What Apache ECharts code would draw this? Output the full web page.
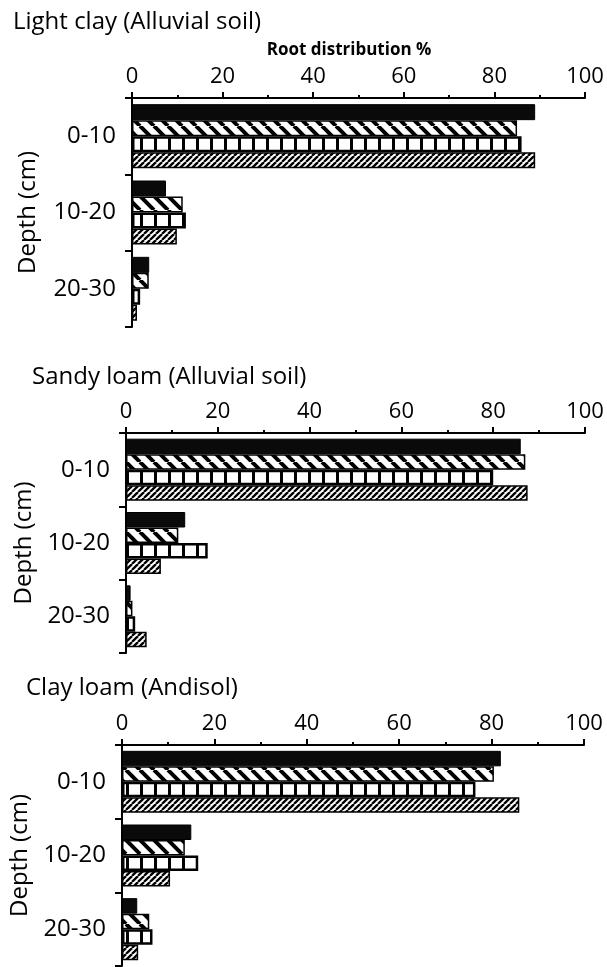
<!DOCTYPE html>
<html>
<head>
<meta charset="utf-8">
<script src="https://cdn.jsdelivr.net/npm/echarts@6/dist/echarts.min.js"></script>
<style>
html,body{margin:0;padding:0;background:#fff;}
#chart{width:607px;height:967px;}
</style>
</head>
<body>
<div id="chart"></div>
<script>
// ---- data ----
const depths = ['0-10', '10-20', '20-30'];
const panelTitles = ['Light clay (Alluvial soil)', 'Sandy loam (Alluvial soil)', 'Clay loam (Andisol)'];
const xAxisTitle = 'Root distribution %';
const yAxisTitle = 'Depth (cm)';

const lightClayBlack  = [89, 7.5, 3.8];
const lightClayWide   = [85, 11.2, 3.7];
const lightClaySquare = [86, 11.9, 1.8];
const lightClayFine   = [89, 9.9, 1.1];

const sandyLoamBlack  = [86, 12.9, 1.0];
const sandyLoamWide   = [87, 11.4, 1.4];
const sandyLoamSquare = [80, 17.8, 2.0];
const sandyLoamFine   = [87.5, 7.6, 4.5];

const clayLoamBlack  = [82, 15, 3.3];
const clayLoamWide   = [80.5, 13.6, 5.9];
const clayLoamSquare = [76.5, 16.5, 6.6];
const clayLoamFine   = [86, 10.4, 3.5];

// ---- patterns ----
function hatch(size, lw, dir) {
  const c = document.createElement('canvas');
  c.width = size; c.height = size;
  const g = c.getContext('2d');
  g.fillStyle = '#fff'; g.fillRect(0, 0, size, size);
  g.strokeStyle = '#000'; g.lineWidth = lw;
  for (const o of [-size, 0, size]) {
    g.beginPath();
    if (dir === 'back') { g.moveTo(o, 0); g.lineTo(o + size, size); }
    else { g.moveTo(o, size); g.lineTo(o + size, 0); }
    g.stroke();
  }
  return c;
}
function squares() {
  const c = document.createElement('canvas');
  c.width = 14; c.height = 14;
  const g = c.getContext('2d');
  g.fillStyle = '#fff'; g.fillRect(0, 0, 14, 14);
  g.fillStyle = '#000'; g.fillRect(0, 0, 3, 14);
  return c;
}
const wideFill = { image: hatch(14, 4, 'back'), repeat: 'repeat' };
const fineFill = { image: hatch(6, 2.3, 'fwd'), repeat: 'repeat' };
const squareFill = { image: squares(), repeat: 'repeat' };

const FONT = '"Open Sans", Lato, sans-serif';

const grids = [
  { left: 132, top: 98, width: 453, height: 229 },
  { left: 126, top: 433, width: 459, height: 220 },
  { left: 122, top: 745, width: 462, height: 221 }
];
const panels = [
  [lightClayBlack, lightClayWide, lightClaySquare, lightClayFine],
  [sandyLoamBlack, sandyLoamWide, sandyLoamSquare, sandyLoamFine],
  [clayLoamBlack, clayLoamWide, clayLoamSquare, clayLoamFine]
];
const barWidths = [16, 15.5, 15.5];
const titlePos = [{ left: 8, top: 5 }, { left: 27, top: 360 }, { left: 21, top: 671 }];
const nameGaps = [92, 89, 88];

const xAxes = grids.map((g, i) => ({
  type: 'value', gridIndex: i, position: 'top', min: 0, max: 100, interval: 20,
  axisLine: { show: true, lineStyle: { color: '#000', width: 2 } },
  axisTick: { show: true, length: 6, lineStyle: { color: '#000', width: 2 } },
  minorTick: { show: true, splitNumber: 2, length: 3, lineStyle: { color: '#000', width: 2 } },
  splitLine: { show: false },
  axisLabel: { color: '#000', fontSize: 22, fontFamily: FONT, margin: 10 }
}));
const yAxes = grids.map((g, i) => ({
  type: 'category', gridIndex: i, data: depths, inverse: true,
  name: yAxisTitle, nameLocation: 'middle', nameRotate: 90, nameGap: nameGaps[i],
  nameTextStyle: { color: '#000', fontSize: 24, fontFamily: FONT },
  axisLine: { show: true, lineStyle: { color: '#000', width: 2 } },
  axisTick: { show: true, length: 7, lineStyle: { color: '#000', width: 2 } },
  axisLabel: { color: '#000', fontSize: 24, fontFamily: FONT, margin: 16 }
}));

const fills = [
  { color: '#0a0a0a', borderWidth: 1 },
  { color: wideFill, borderWidth: 1.5 },
  { color: squareFill, borderWidth: 2.5 },
  { color: fineFill, borderWidth: 1.5 }
];
const series = [];
panels.forEach((arrs, i) => {
  arrs.forEach((arr, k) => {
    series.push({
      type: 'bar', xAxisIndex: i, yAxisIndex: i, data: arr,
      barWidth: barWidths[i], barGap: '0%',
      itemStyle: { color: fills[k].color, borderColor: '#000', borderWidth: fills[k].borderWidth },
      silent: true, animation: false
    });
  });
});

const titles = panelTitles.map((t, i) => ({
  text: t, left: titlePos[i].left, top: titlePos[i].top,
  textStyle: { color: '#000', fontSize: 24, fontWeight: 'normal', fontFamily: FONT }
}));
titles.push({
  text: xAxisTitle, left: 344, top: 37, textAlign: 'center',
  textStyle: { color: '#000', fontSize: 17, fontWeight: 'bold', fontFamily: FONT }
});

const chart = echarts.init(document.getElementById('chart'), null, { renderer: 'canvas' });
chart.setOption({
  animation: false,
  backgroundColor: '#fff',
  title: titles,
  grid: grids,
  xAxis: xAxes,
  yAxis: yAxes,
  series: series
});
</script>
</body>
</html>
